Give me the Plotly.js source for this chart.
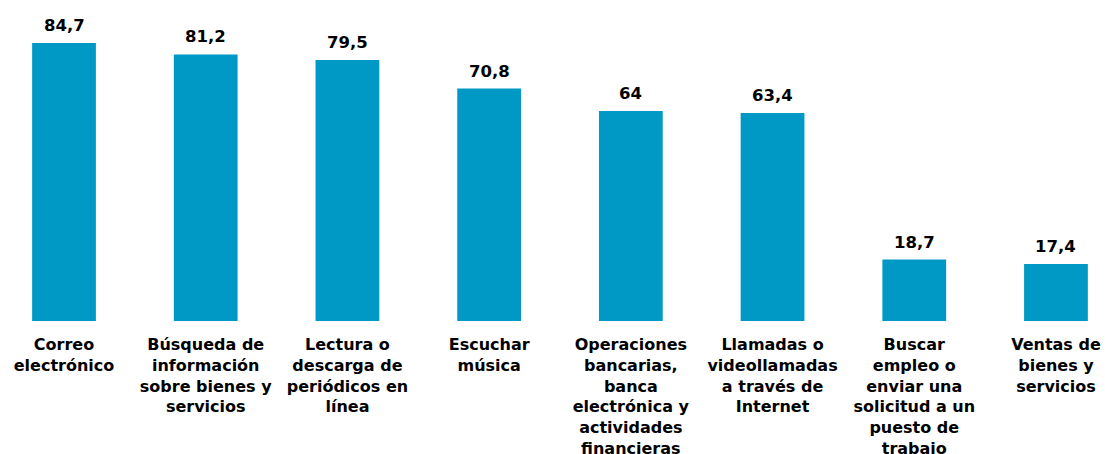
<!DOCTYPE html>
<html>
<head>
<meta charset="utf-8">
<script src="https://cdn.plot.ly/plotly-3.0.1.min.js"></script>
<style>html,body{margin:0;padding:0;background:#fff;}#chart{width:1105px;height:454px;}</style>
</head>
<body>
<div id="chart"></div>
<script>
const categories = [
  "Correo<br>electrónico",
  "Búsqueda de<br>información<br>sobre bienes y<br>servicios",
  "Lectura o<br>descarga de<br>periódicos en<br>línea",
  "Escuchar<br>música",
  "Operaciones<br>bancarias,<br>banca<br>electrónica y<br>actividades<br>financieras",
  "Llamadas o<br>videollamadas<br>a través de<br>Internet",
  "Buscar<br>empleo o<br>enviar una<br>solicitud a un<br>puesto de<br>trabajo",
  "Ventas de<br>bienes y<br>servicios"
];
const values = [84.7, 81.2, 79.5, 70.8, 64, 63.4, 18.7, 17.4];
const valueLabels = values.map(v => String(v).replace('.', ','));

const FONT = "'DejaVu Sans', Verdana, sans-serif";
const idx = categories.map((c, i) => i);

const trace = {
  type: 'bar',
  x: idx,
  y: values,
  width: 0.45,
  marker: {color: '#0099c6', line: {width: 0}},
  hoverinfo: 'skip'
};

const annotations = idx.map(i => ({
  x: i, y: values[i], xref: 'x', yref: 'y',
  text: '<b>' + valueLabels[i] + '</b>',
  showarrow: false, yanchor: 'bottom', yshift: 6,
  font: {family: FONT, size: 16.5, color: '#000'}
}));

const layout = {
  width: 1105, height: 454,
  margin: {l: 0, r: 0, t: 0, b: 133},
  paper_bgcolor: '#fff', plot_bgcolor: '#fff',
  showlegend: false,
  xaxis: {
    range: [-0.4517, 7.346],
    tickmode: 'array', tickvals: idx,
    ticktext: categories.map(c => '<b>' + c + '</b>'),
    ticks: '', showline: false, showgrid: false, zeroline: false,
    tickangle: 0, ticklabelstandoff: 12,
    tickfont: {family: FONT, size: 16, color: '#000'},
    automargin: false
  },
  yaxis: {
    range: [0, 97.8], visible: false, showgrid: false, zeroline: false
  },
  annotations: annotations
};

Plotly.newPlot('chart', [trace], layout, {staticPlot: true, displayModeBar: false});
</script>
</body>
</html>
